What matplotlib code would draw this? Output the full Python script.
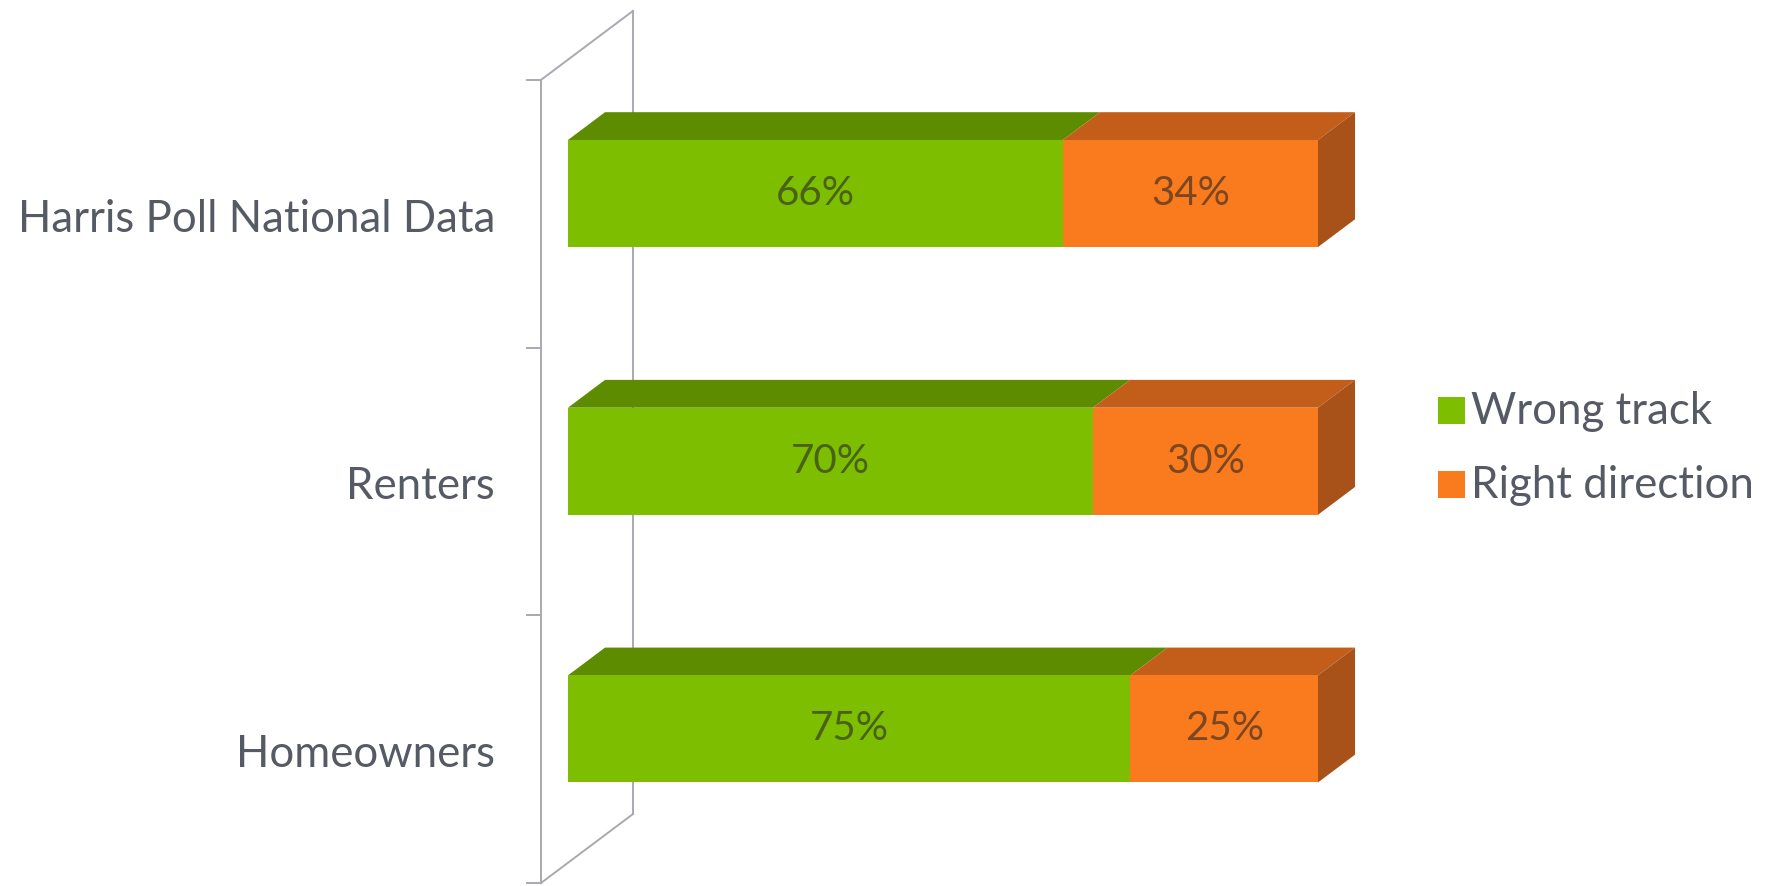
import matplotlib
matplotlib.use("Agg")
import matplotlib.pyplot as plt
from matplotlib.patches import Polygon, Rectangle

categories = ["Homeowners", "Renters", "Harris Poll National Data"]
wrong_track = [75, 70, 66]
right_direction = [25, 30, 34]
series_names = ["Wrong track", "Right direction"]

front_colors = ["#7DBE00", "#FA7A1E"]
top_colors = ["#5E8C00", "#C35E1A"]
side_colors = ["#5A8500", "#A8521A"]
wall_color = "#A9A9B2"
text_color = "#555A64"
label_color = "#262626"

plt.rcParams["font.family"] = ["Lato", "DejaVu Sans"]

W, H, DPI = 1781, 886, 100
fig = plt.figure(figsize=(W / DPI, H / DPI), dpi=DPI)
ax = fig.add_axes([0, 0, 1, 1])
ax.axis("off")

# axes scale: front plane x=0 at px 541, 7.5 px per %, category 267.7 px
px_per_x = 7.5
px_per_y = 267.7
x0_px = 541
ax.set_xlim(-x0_px / px_per_x, (W - x0_px) / px_per_x)
ax.set_ylim(-0.5 - 3 / px_per_y, -0.5 + 883 / px_per_y)

# depth vector (full wall depth) in data units
ddx = 92 / px_per_x
ddy = 69 / px_per_y
f0, f1 = 0.293, 0.696
bw = 0.40

n = len(categories)
ylo, yhi = -0.5, n - 0.5

# wall
lw = 1.4
ax.plot([0, 0], [ylo, yhi], color=wall_color, lw=lw, zorder=1)
ax.plot([ddx, ddx], [ylo + ddy, yhi + ddy], color=wall_color, lw=lw, zorder=1)
ax.plot([0, ddx], [yhi, yhi + ddy], color=wall_color, lw=lw, zorder=1)
ax.plot([0, ddx], [ylo, ylo + ddy], color=wall_color, lw=lw, zorder=1)
tick_len = 14 / px_per_x
for k in range(n + 1):
    yk = ylo + k
    ax.plot([-tick_len, 0], [yk, yk], color=wall_color, lw=lw, zorder=1)


def draw_bar(xs, xe, yc, ci, last):
    yb = yc - bw / 2
    yt = yc + bw / 2
    # top face
    top = [(xs + f0 * ddx, yt + f0 * ddy), (xe + f0 * ddx, yt + f0 * ddy),
           (xe + f1 * ddx, yt + f1 * ddy), (xs + f1 * ddx, yt + f1 * ddy)]
    ax.add_patch(Polygon(top, closed=True, facecolor=top_colors[ci],
                         edgecolor="none", zorder=3))
    if last:
        side = [(xe + f0 * ddx, yb + f0 * ddy), (xe + f1 * ddx, yb + f1 * ddy),
                (xe + f1 * ddx, yt + f1 * ddy), (xe + f0 * ddx, yt + f0 * ddy)]
        ax.add_patch(Polygon(side, closed=True, facecolor=side_colors[ci],
                             edgecolor="none", zorder=3))
    ax.add_patch(Rectangle((xs + f0 * ddx, yb + f0 * ddy), xe - xs, bw,
                           facecolor=front_colors[ci], edgecolor="none", zorder=4))
    ax.text((xs + xe) / 2 + f0 * ddx, yc + f0 * ddy, f"{xe - xs:.0f}%",
            ha="center", va="center", fontsize=29, color=label_color, alpha=0.6,
            zorder=5)


for i, cat in enumerate(categories):
    draw_bar(0, wrong_track[i], i, 0, False)
    draw_bar(wrong_track[i], wrong_track[i] + right_direction[i], i, 1, True)
    ax.text(-46 / px_per_x, i - 0.02, cat, ha="right", va="center",
            fontsize=31.5, color=text_color)

# legend
leg_x = (1438 - x0_px) / px_per_x
leg_ys = [(883 - 410) / px_per_y - 0.5, (883 - 484) / px_per_y - 0.5]
sq = 27
for j, name in enumerate(series_names):
    ax.add_patch(Rectangle((leg_x, leg_ys[j] - sq / 2 / px_per_y), sq / px_per_x, sq / px_per_y,
                           facecolor=front_colors[j], edgecolor="none"))
    ax.text((1471 - x0_px) / px_per_x, leg_ys[j] - 0.005, name, ha="left", va="center",
            fontsize=31.5, color=text_color)

fig.savefig("out.png", dpi=DPI, facecolor="white")
